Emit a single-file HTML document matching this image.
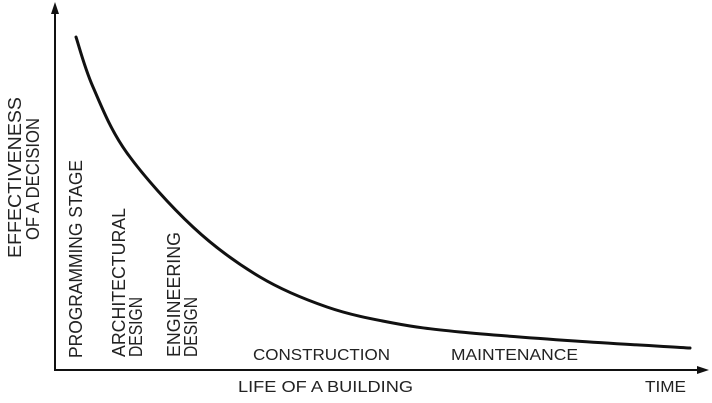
<!DOCTYPE html>
<html><head><meta charset="utf-8"><style>
html,body{margin:0;padding:0;background:#fff;}
svg{display:block;}
text{font-family:"Liberation Sans",Arial,sans-serif;font-size:16px;fill:#222;}
.v{font-size:18px;}
</style></head><body>
<svg width="712" height="403" viewBox="0 0 712 403" xmlns="http://www.w3.org/2000/svg">
<g stroke="#111" stroke-width="2" fill="none">
<line x1="55" y1="8" x2="55" y2="371"/>
<line x1="54" y1="370" x2="700" y2="370"/>
<path d="M76,37 C78.8,45.3 84.5,67.7 93,87 C101.5,106.3 110.3,129.7 127,153 C143.7,176.3 170.8,206.3 193,227 C215.2,247.7 237.7,263.7 260,277 C282.3,290.3 304.8,299.3 327,307 C349.2,314.7 370.8,318.8 393,323 C415.2,327.2 429.7,329 460,332 C490.3,335 536.7,338.3 575,341 C613.3,343.7 670.8,346.8 690,348" stroke-width="3" stroke-linecap="round"/>
</g>
<polygon points="55,2 51,14 59,14" fill="#111"/>
<polygon points="709,370 697,366 697,374" fill="#111"/>
<text x="253" y="360" textLength="137" lengthAdjust="spacingAndGlyphs">CONSTRUCTION</text>
<text x="451" y="360" textLength="127" lengthAdjust="spacingAndGlyphs">MAINTENANCE</text>
<text x="238" y="392" textLength="175" lengthAdjust="spacingAndGlyphs">LIFE OF A BUILDING</text>
<text x="645" y="392" textLength="41" lengthAdjust="spacingAndGlyphs">TIME</text>
<text class="v" transform="translate(21,258) rotate(-90)" textLength="161" lengthAdjust="spacingAndGlyphs">EFFECTIVENESS</text>
<text class="v" transform="translate(39,240) rotate(-90)" textLength="122" lengthAdjust="spacingAndGlyphs">OF A DECISION</text>
<text class="v" transform="translate(82,358) rotate(-90)" textLength="198" lengthAdjust="spacingAndGlyphs">PROGRAMMING STAGE</text>
<text class="v" transform="translate(125,357) rotate(-90)" textLength="149" lengthAdjust="spacingAndGlyphs">ARCHITECTURAL</text>
<text class="v" transform="translate(142,357) rotate(-90)" textLength="60" lengthAdjust="spacingAndGlyphs">DESIGN</text>
<text class="v" transform="translate(180,357) rotate(-90)" textLength="125" lengthAdjust="spacingAndGlyphs">ENGINEERING</text>
<text class="v" transform="translate(197,357) rotate(-90)" textLength="60" lengthAdjust="spacingAndGlyphs">DESIGN</text>
</svg>
</body></html>
